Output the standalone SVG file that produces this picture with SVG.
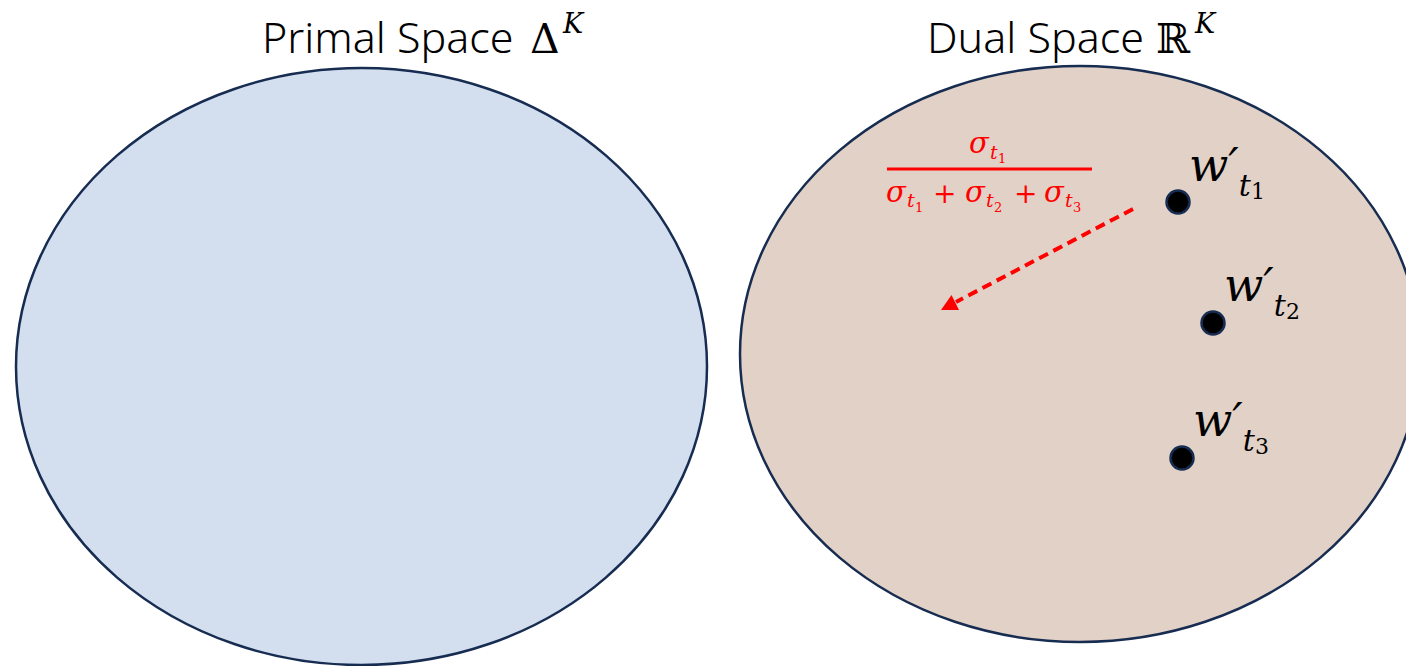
<svg xmlns="http://www.w3.org/2000/svg" width="1406" height="666" viewBox="0 0 1406 666">
<style>
.space{stroke:#172C51;stroke-width:2.5}
.title{font-family:"Noto Sans","Liberation Sans",sans-serif;font-size:43px;font-weight:300;fill:#000}
.m{font-family:"DejaVu Serif","Liberation Serif",serif;font-style:italic}
.mu{font-family:"DejaVu Serif","Liberation Serif",serif}
.lbl{font-family:"DejaVu Serif","Liberation Serif",serif;fill:#000}
.lbl .w{font-style:italic;font-size:46px}
.lbl .t{font-style:italic;font-size:30px}
.lbl .n{font-style:normal;font-size:22px}
.red{fill:#FF0000}
.dot{fill:#000;stroke:#172C51;stroke-width:2.5}
</style>
<rect width="1406" height="666" fill="#fff"/>
<g id="primal">
<ellipse class="space" cx="361.5" cy="366.5" rx="345.5" ry="298.5" fill="#D3DEEF"/>
<text class="title" x="262" y="53">Primal Space</text>
<text class="mu" x="530" y="53" font-size="41">Δ</text>
<text class="m" x="563" y="33" font-size="27">K</text>
</g>
<g id="dual">
<ellipse class="space" cx="1080" cy="354" rx="340" ry="288" fill="#E2D1C6"/>
<text class="title" x="927" y="53">Dual Space</text>
<text class="mu" x="1156" y="53" font-size="41">ℝ</text>
<text class="m" x="1195" y="33" font-size="27">K</text>
</g>
<g id="fraction" class="red">
<text class="m" x="969" y="153" font-size="29">σ</text>
<text class="m" x="990" y="159" font-size="19">t</text>
<text class="mu" x="998" y="163" font-size="13">1</text>
<rect x="887" y="167.5" width="205" height="3"/>
<text class="m" x="886" y="202" font-size="29">σ</text>
<text class="m" x="907" y="207" font-size="19">t</text>
<text class="mu" x="915" y="212" font-size="13">1</text>
<text class="mu" x="933" y="203" font-size="28">+</text>
<text class="m" x="965" y="202" font-size="29">σ</text>
<text class="m" x="986" y="207" font-size="19">t</text>
<text class="mu" x="994" y="212" font-size="13">2</text>
<text class="mu" x="1014" y="203" font-size="28">+</text>
<text class="m" x="1044" y="202" font-size="29">σ</text>
<text class="m" x="1065" y="207" font-size="19">t</text>
<text class="mu" x="1073" y="212" font-size="13">3</text>
</g>
<g id="connectors">
<line x1="1133" y1="209" x2="956" y2="302" stroke="#FF0000" stroke-width="4" stroke-dasharray="10,6"/>
<polygon points="941,310 959,310 951.5,295" fill="#FF0000"/>
</g>
<g id="w1">
<circle class="dot" cx="1178" cy="202" r="11.5"/>
<text class="lbl" x="1189" y="181"><tspan class="w">w′</tspan><tspan class="t" dy="15">t</tspan><tspan class="n" dy="3">1</tspan></text>
</g>
<g id="w2">
<circle class="dot" cx="1213" cy="323" r="11.5"/>
<text class="lbl" x="1224" y="301"><tspan class="w">w′</tspan><tspan class="t" dy="15">t</tspan><tspan class="n" dy="3">2</tspan></text>
</g>
<g id="w3">
<circle class="dot" cx="1182" cy="458" r="11.5"/>
<text class="lbl" x="1193" y="436"><tspan class="w">w′</tspan><tspan class="t" dy="15">t</tspan><tspan class="n" dy="3">3</tspan></text>
</g>
</svg>
